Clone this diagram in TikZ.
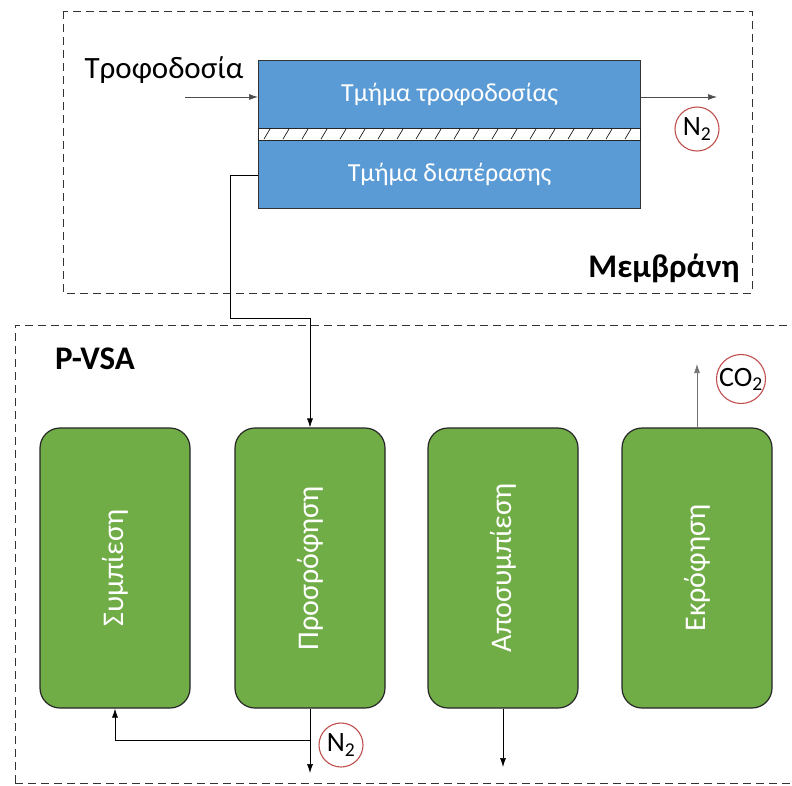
\documentclass[tikz,border=0pt]{standalone}
\usepackage{fontspec}
\setmainfont{Carlito}
\usetikzlibrary{arrows.meta}
\definecolor{mblue}{HTML}{5B9BD5}
\definecolor{mgreen}{HTML}{70AD47}
\definecolor{cred}{HTML}{C0504D}
\begin{document}
\begin{tikzpicture}[x=1pt,y=-1pt,
  dashbox/.style={draw=black!80, dashed, dash pattern=on 8pt off 5pt, line width=1pt},
  blueblock/.style={draw=black!80, fill=mblue, line width=1.2pt, text=white, font=\fontsize{26}{28}\selectfont},
  stage/.style={draw=black!85, fill=mgreen, rounded corners=20pt, line width=1.2pt, minimum width=150pt, minimum height=280pt, inner sep=0pt},
  stagetext/.style={text=white, rotate=90, font=\fontsize{30}{32}\selectfont},
  flow/.style={-{Latex[length=9pt,width=6pt]}, line width=0.7pt},
  gas/.style={draw=cred, circle, line width=1.1pt, inner sep=0pt, minimum size=44pt, font=\fontsize{28}{29}\selectfont},
  lbl/.style={font=\fontsize{31}{33}\selectfont},
  bold/.style={font=\bfseries\fontsize{33}{35}\selectfont}]
\useasboundingbox (0,0) rectangle (792,785);
% dashed frames
\draw[dashbox] (63,11) rectangle (752,293);
\draw[dashbox] (800,325) -- (15,325) -- (15,800);
\draw[dashbox] (15,783) -- (800,783);
% membrane
\node[blueblock, minimum width=382pt, minimum height=68pt, inner sep=0pt, anchor=north west] (feed) at (258,60) {Τμήμα τροφοδοσίας};
\node[blueblock, minimum width=382pt, minimum height=68pt, inner sep=0pt, anchor=north west] (perm) at (258,140) {Τμήμα διαπέρασης};
\node[draw=black!85, fill=white, line width=1.2pt, minimum width=382pt, minimum height=12pt, inner sep=0pt, anchor=north west] (mem) at (258,128) {};
\foreach \i in {0,...,19} {
  \draw[line width=0.6pt] ({264+\i*19},139) -- ({270+\i*19},129);
}
\node[lbl, anchor=base] (feedlbl) at (164,78) {Τροφοδοσία};
\coordinate (feedin) at (185,97);
\draw[flow, draw=black!70] (feedin) -- (feed.west |- feedin);
\coordinate (feedout) at (717,97);
\draw[flow, draw=black!70] (feed.east |- feedout) -- (feedout);
\node[gas] (n2a) at (697,129) {N\textsubscript{2}};
\node[bold, anchor=base] (memlbl) at (664,277) {Μεμβράνη};
% P-VSA
\node[bold, anchor=base] (pvsa) at (95,369) {P-VSA};
\node[stage] (s1) at (115,568) {};
\node[stage] (s2) at (310,568) {};
\node[stage] (s3) at (503,568) {};
\node[stage] (s4) at (697,568) {};
\node[stagetext] at (s1) {Συμπίεση};
\node[stagetext] at (s2) {Προσρόφηση};
\node[stagetext] at (s3) {Αποσυμπίεση};
\node[stagetext] at (s4) {Εκρόφηση};
% permeate to adsorption
\coordinate (p1) at (230,175);
\coordinate (p2) at (230,318);
\draw[flow] (perm.west |- p1) -- (p1) -- (p2) -- (s2.north |- p2) -- (s2.north);
% CO2
\coordinate (co2end) at (697,364);
\draw[flow, draw=black!55] (s4.north) -- (co2end);
\node[gas] (co2) at (741,379) {CO\textsubscript{2}};
% bottom
\coordinate (b2) at (310,773);
\coordinate (br) at (310,740);
\coordinate (bl) at (115,740);
\draw[flow] (s2.south) -- (b2);
\draw[flow] (br) -- (bl) -- (s1.south);
\node[gas] (n2b) at (341,745) {N\textsubscript{2}};
\coordinate (b3) at (503,767);
\draw[flow] (s3.south) -- (b3);
\end{tikzpicture}
\end{document}
